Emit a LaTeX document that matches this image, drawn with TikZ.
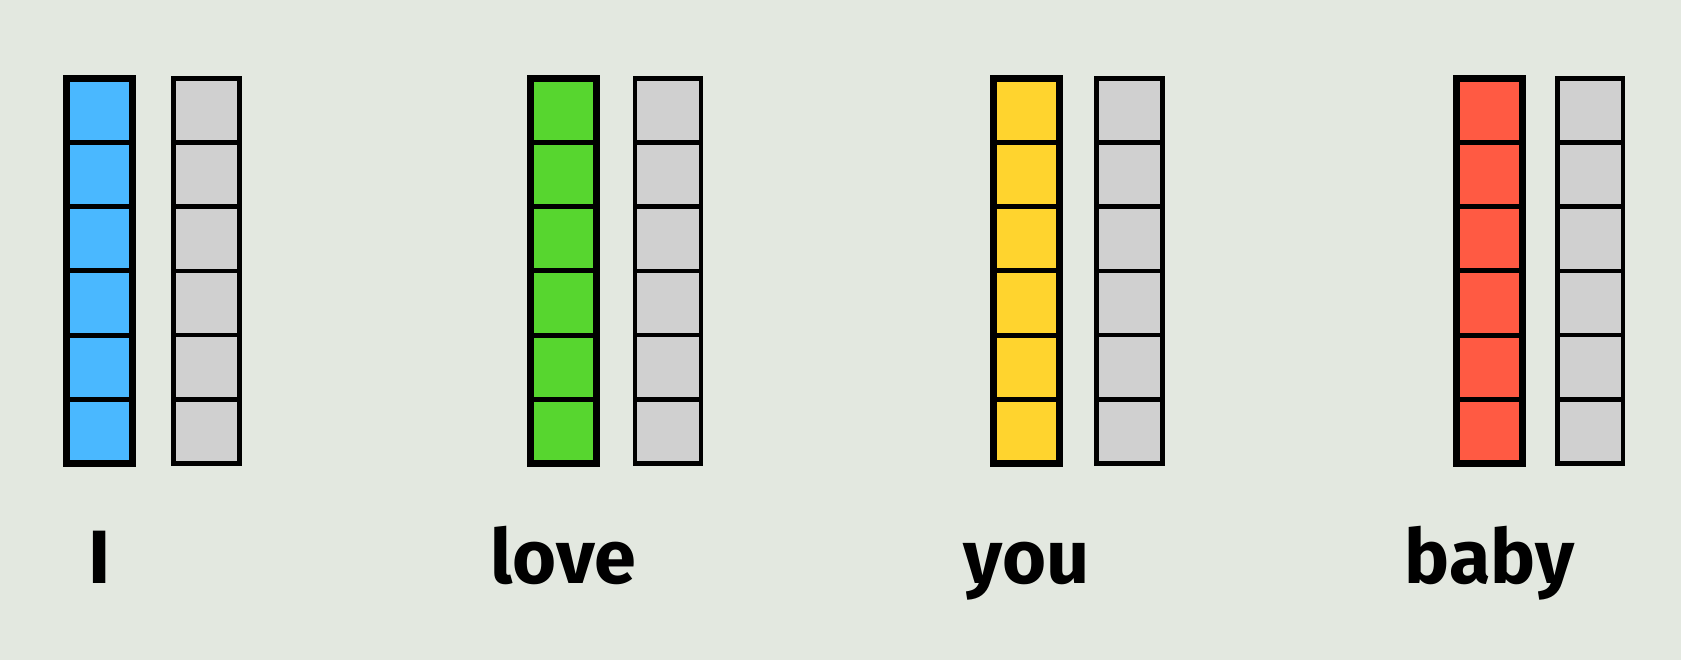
\documentclass[tikz,border=0pt]{standalone}
\usepackage{xcolor}
\usepackage{fontspec}
\setmainfont{Fira Sans}
\usepackage{tikz}
\usetikzlibrary{positioning}
\definecolor{bg}{HTML}{E3E8E0}
\definecolor{wblue}{HTML}{4AB8FF}
\definecolor{wgreen}{HTML}{57D62F}
\definecolor{wyellow}{HTML}{FFD42E}
\definecolor{wred}{HTML}{FF5A43}
\definecolor{wgray}{HTML}{D0D0D0}

\tikzset{
  wordcell/.style={draw=black, line width=2.9pt},
  wordframe/.style={draw=black, line width=3.8pt},
  posecell/.style={draw=black, line width=2.6pt, fill=wgray},
  wordlabel/.style={anchor=base, inner sep=0pt, font=\fontsize{43}{50}\selectfont\bfseries}
}

\begin{document}
\begin{tikzpicture}[x=0.02cm, y=-0.02cm]
    % background and page size
    \fill[bg] (0,0) rectangle (1681,660);
    \useasboundingbox (0,0) rectangle (1681,660);
    \foreach \xo/\gap/\col/\word/\name in {66.7/107/wblue/I/i, 530.2/105/wgreen/love/love, 993.7/103/wyellow/you/you, 1456.5/101/wred/baby/baby} {
      % word embedding column
      \foreach \k in {0,...,5}
        \draw[wordcell, fill=\col] (\xo, 78.3+\k*64.2) rectangle ++(66, 64.2);
      \draw[wordframe] (\xo, 78.3) rectangle ++(66, 385.2);
      % second column
      \foreach \k in {0,...,5}
        \draw[posecell] (\xo+\gap, 78.3+\k*64.2) rectangle ++(65.7, 64.2);
      \node[wordlabel] (w-\name) at (\xo+33, 583) {\word};
    }
  \end{tikzpicture}
\end{document}
